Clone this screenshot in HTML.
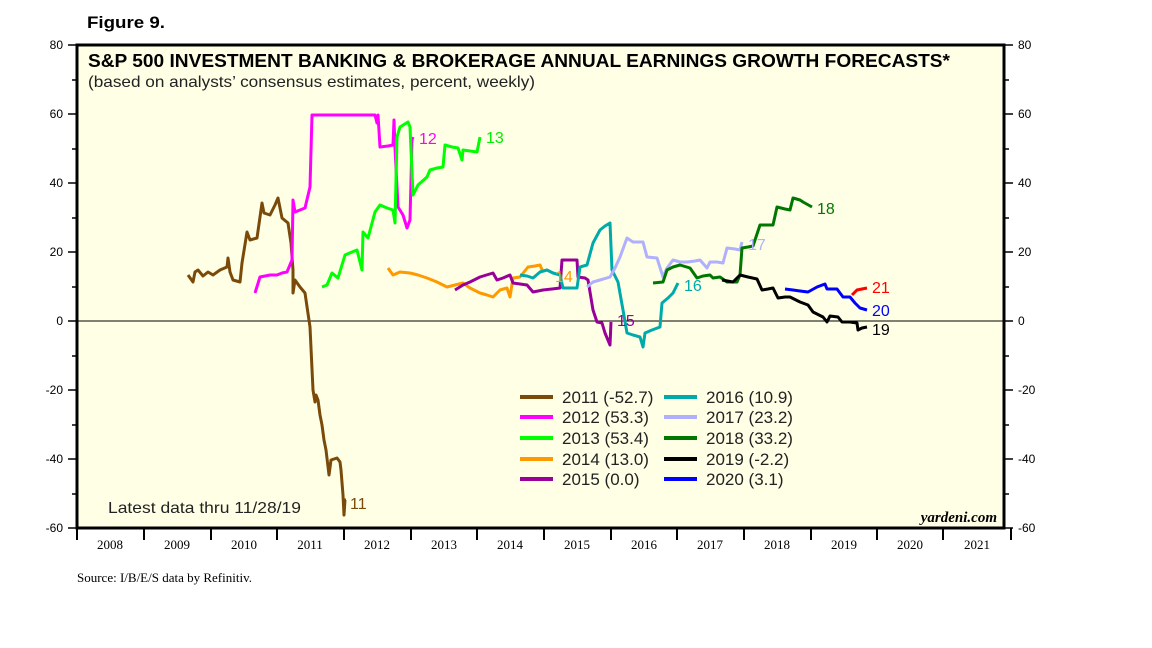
<!DOCTYPE html>
<html><head><meta charset="utf-8"><style>
html,body{margin:0;padding:0;background:#fff;}
svg{display:block;font-family:"Liberation Sans",sans-serif;}
</style></head><body>
<svg width="1152" height="648" viewBox="0 0 1152 648" xmlns="http://www.w3.org/2000/svg">
<rect x="0" y="0" width="1152" height="648" fill="#fff"/>
<text x="87" y="28" font-size="17" font-weight="bold" textLength="78" lengthAdjust="spacingAndGlyphs">Figure 9.</text>
<rect x="77" y="45" width="927" height="483" fill="#ffffe6" stroke="#000" stroke-width="3"/>
<line x1="77" y1="321" x2="1004" y2="321" stroke="#000" stroke-width="1"/>
<g stroke="#000" stroke-width="1.5">
<line x1="68" y1="45" x2="77" y2="45"/><line x1="72" y1="80" x2="77" y2="80"/>
<line x1="68" y1="114" x2="77" y2="114"/><line x1="72" y1="149" x2="77" y2="149"/>
<line x1="68" y1="183" x2="77" y2="183"/><line x1="72" y1="218" x2="77" y2="218"/>
<line x1="68" y1="252" x2="77" y2="252"/><line x1="72" y1="287" x2="77" y2="287"/>
<line x1="68" y1="321" x2="77" y2="321"/><line x1="72" y1="356" x2="77" y2="356"/>
<line x1="68" y1="390" x2="77" y2="390"/><line x1="72" y1="425" x2="77" y2="425"/>
<line x1="68" y1="459" x2="77" y2="459"/><line x1="72" y1="494" x2="77" y2="494"/>
<line x1="68" y1="528" x2="77" y2="528"/>
<line x1="1004" y1="45" x2="1013" y2="45"/><line x1="1004" y1="80" x2="1009" y2="80"/>
<line x1="1004" y1="114" x2="1013" y2="114"/><line x1="1004" y1="149" x2="1009" y2="149"/>
<line x1="1004" y1="183" x2="1013" y2="183"/><line x1="1004" y1="218" x2="1009" y2="218"/>
<line x1="1004" y1="252" x2="1013" y2="252"/><line x1="1004" y1="287" x2="1009" y2="287"/>
<line x1="1004" y1="321" x2="1013" y2="321"/><line x1="1004" y1="356" x2="1009" y2="356"/>
<line x1="1004" y1="390" x2="1013" y2="390"/><line x1="1004" y1="425" x2="1009" y2="425"/>
<line x1="1004" y1="459" x2="1013" y2="459"/><line x1="1004" y1="494" x2="1009" y2="494"/>
<line x1="1004" y1="528" x2="1013" y2="528"/>
</g>
<g stroke="#000" stroke-width="2">
<line x1="77" y1="528" x2="77" y2="540"/><line x1="144" y1="528" x2="144" y2="540"/>
<line x1="211" y1="528" x2="211" y2="540"/><line x1="277" y1="528" x2="277" y2="540"/>
<line x1="344" y1="528" x2="344" y2="540"/><line x1="411" y1="528" x2="411" y2="540"/>
<line x1="477" y1="528" x2="477" y2="540"/><line x1="544" y1="528" x2="544" y2="540"/>
<line x1="611" y1="528" x2="611" y2="540"/><line x1="677" y1="528" x2="677" y2="540"/>
<line x1="744" y1="528" x2="744" y2="540"/><line x1="811" y1="528" x2="811" y2="540"/>
<line x1="877" y1="528" x2="877" y2="540"/><line x1="943" y1="528" x2="943" y2="540"/>
<line x1="1011" y1="528" x2="1011" y2="540"/>
</g>
<g font-size="12" fill="#000" text-anchor="end">
<text x="63" y="49">80</text><text x="63" y="118">60</text><text x="63" y="187">40</text>
<text x="63" y="256">20</text><text x="63" y="325">0</text><text x="63" y="394">-20</text>
<text x="63" y="463">-40</text><text x="63" y="532">-60</text>
</g>
<g font-size="12" fill="#000">
<text x="1018" y="49">80</text><text x="1018" y="118">60</text><text x="1018" y="187">40</text>
<text x="1018" y="256">20</text><text x="1018" y="325">0</text><text x="1018" y="394">-20</text>
<text x="1018" y="463">-40</text><text x="1018" y="532">-60</text>
</g>
<g font-family="Liberation Serif,serif" font-size="13" text-anchor="middle" fill="#000">
<text x="110" y="549">2008</text><text x="177" y="549">2009</text><text x="244" y="549">2010</text>
<text x="310" y="549">2011</text><text x="377" y="549">2012</text><text x="444" y="549">2013</text>
<text x="510" y="549">2014</text><text x="577" y="549">2015</text><text x="644" y="549">2016</text>
<text x="710" y="549">2017</text><text x="777" y="549">2018</text><text x="844" y="549">2019</text>
<text x="910" y="549">2020</text><text x="977" y="549">2021</text>
</g>
<text x="88" y="67" font-size="18" font-weight="bold" textLength="862" lengthAdjust="spacingAndGlyphs">S&amp;P 500 INVESTMENT BANKING &amp; BROKERAGE ANNUAL EARNINGS GROWTH FORECASTS*</text>
<text x="88" y="87" font-size="16" fill="#222" textLength="447" lengthAdjust="spacingAndGlyphs">(based on analysts’ consensus estimates, percent, weekly)</text>
<text x="108" y="513" font-size="16" fill="#222" textLength="193" lengthAdjust="spacingAndGlyphs">Latest data thru 11/28/19</text>
<text x="997" y="522" font-size="15" font-weight="bold" font-style="italic" font-family="Liberation Serif,serif" text-anchor="end">yardeni.com</text>
<text x="77" y="582" font-size="13" font-family="Liberation Serif,serif">Source: I/B/E/S data by Refinitiv.</text>
<g fill="none" stroke-width="3" stroke-linejoin="round">
<polyline stroke="#7a4a0a" points="188,275 193,282 195,272 198,270 203,276 208,272 213,275 220,270 227,267 228,258 230,272 233,280 240,282 242,263 247,232 250,240 257,238 262,203 264,213 270,215 275,205 278,198 282,218 288,223 291,243 293,270 293,293 295,280 300,287 305,293 310,327 313,390 315,402 316,395 318,400 320,415 322,425 324,440 326,450 329,475 331,460 337,458 340,462 341,470 343,495 344,515 345,500 346,500"/>
<polyline stroke="#ff00ff" points="255,293 260,277 265,276 270,275 277,275 282,273 287,272 292,260 293,200 295,212 300,210 305,208 310,187 312,115 375,115 377,123 378,115 380,147 388,146 393,145 394,120 395,148 398,207 403,215 407,228 410,220 412,140 413,137"/>
<polyline stroke="#00ff00" points="322,287 327,285 332,273 338,278 345,255 352,252 357,250 362,270 363,232 368,238 375,212 380,205 387,208 393,210 395,223 397,137 400,127 408,122 410,127 413,195 418,185 427,177 430,170 437,168 443,167 445,145 452,147 458,148 462,160 463,150 470,151 477,152 480,137"/>
<polyline stroke="#ff9900" points="388,268 393,275 400,272 410,273 418,275 427,278 437,282 447,287 455,285 463,283 470,288 480,293 487,295 493,297 500,290 507,288 510,297 513,278 520,277 528,267 535,266 540,265 543,272"/>
<polyline stroke="#990099" points="455,290 463,285 470,282 480,277 493,273 497,280 503,278 510,275 513,283 520,284 527,285 533,292 543,290 552,289 560,288 562,260 577,260 578,277 585,278 588,280 593,310 597,322 602,323 605,333 610,345 611,322"/>
<polyline stroke="#00aaaa" points="520,275 527,276 533,278 540,272 547,270 553,273 560,275 563,288 577,288 580,267 587,265 593,243 600,230 605,226 610,223 612,270 618,282 623,310 627,333 633,335 640,337 643,347 645,333 652,330 660,327 662,303 668,298 673,293 678,283"/>
<polyline stroke="#b0b0ff" points="587,287 593,282 600,280 610,277 615,268 620,257 627,238 633,242 643,242 647,257 657,258 663,277 667,268 673,260 680,262 687,262 695,261 700,260 707,268 710,262 717,262 723,263 727,248 735,249 740,250 742,242"/>
<polyline stroke="#007700" points="653,283 663,282 667,270 673,267 680,265 690,268 697,278 703,276 710,275 713,278 720,277 727,282 737,282 740,275 742,248 748,247 753,246 760,225 767,225 773,225 777,207 785,209 790,210 793,198 800,200 803,202 812,207"/>
<polyline stroke="#000000" points="722,280 733,282 740,275 748,277 757,279 762,290 768,289 773,288 778,298 785,297 790,297 800,302 808,305 813,312 823,317 827,322 830,316 838,317 842,322 850,322 857,323 858,330 862,328 867,327"/>
<polyline stroke="#0000ff" points="785,289 793,290 800,291 808,292 817,287 825,284 827,289 837,289 843,297 850,297 855,303 860,308 867,310"/>
<polyline stroke="#ff0000" points="852,295 857,290 862,289 867,288"/>
</g>
<g font-size="16">
<text x="350" y="509" fill="#7a4a0a">11</text>
<text x="419" y="144" fill="#ff00ff">12</text>
<text x="486" y="143" fill="#00ee00">13</text>
<text x="555" y="282" fill="#ff9900">14</text>
<text x="617" y="326" fill="#990099">15</text>
<text x="684" y="291" fill="#00aaaa">16</text>
<text x="748" y="250" fill="#b0b0ff">17</text>
<text x="817" y="214" fill="#007700">18</text>
<text x="872" y="335" fill="#000">19</text>
<text x="872" y="316" fill="#0000ff">20</text>
<text x="872" y="293" fill="#ff0000">21</text>
</g>
<g stroke-width="4">
<line x1="520" y1="397" x2="553" y2="397" stroke="#7a4a0a"/>
<line x1="520" y1="417" x2="553" y2="417" stroke="#ff00ff"/>
<line x1="520" y1="438" x2="553" y2="438" stroke="#00ff00"/>
<line x1="520" y1="459" x2="553" y2="459" stroke="#ff9900"/>
<line x1="520" y1="479" x2="553" y2="479" stroke="#990099"/>
<line x1="664" y1="397" x2="697" y2="397" stroke="#00aaaa"/>
<line x1="664" y1="417" x2="697" y2="417" stroke="#b0b0ff"/>
<line x1="664" y1="438" x2="697" y2="438" stroke="#007700"/>
<line x1="664" y1="459" x2="697" y2="459" stroke="#000"/>
<line x1="664" y1="479" x2="697" y2="479" stroke="#0000ff"/>
</g>
<g font-size="17" fill="#222">
<text x="562" y="403">2011 (-52.7)</text><text x="562" y="423">2012 (53.3)</text>
<text x="562" y="444">2013 (53.4)</text><text x="562" y="465">2014 (13.0)</text>
<text x="562" y="485">2015 (0.0)</text>
<text x="706" y="403">2016 (10.9)</text><text x="706" y="423">2017 (23.2)</text>
<text x="706" y="444">2018 (33.2)</text><text x="706" y="465">2019 (-2.2)</text>
<text x="706" y="485">2020 (3.1)</text>
</g>
</svg>
</body></html>
